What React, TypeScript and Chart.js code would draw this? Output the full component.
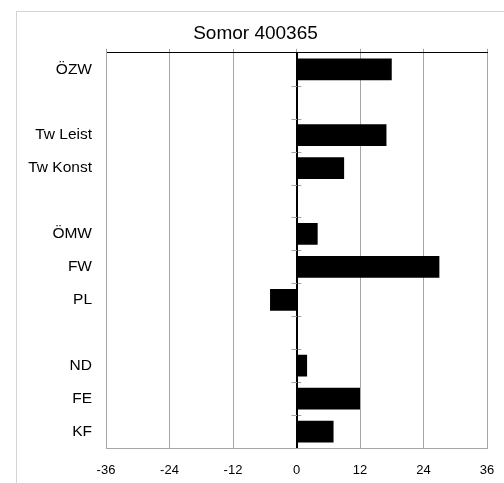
import React, { useEffect, useRef } from "react";
import { Chart, registerables } from "chart.js";

Chart.register(...registerables);

const title = "Somor 400365";
const categories = ["ÖZW", "", "Tw Leist", "Tw Konst", "", "ÖMW", "FW", "PL", "", "ND", "FE", "KF"];
const values: (number | null)[] = [18, null, 17, 9, null, 4, 27, -5, null, 2, 12, 7];
const xMin = -36;
const xMax = 36;
const xStep = 12;

const GRID = "#a6a6a6";

const zeroTicks = {
  id: "zeroTicks",
  afterDatasetsDraw(chart: any) {
    const x = chart.scales.x;
    const y = chart.scales.y;
    const ctx = chart.ctx;
    const x0 = x.getPixelForValue(0);
    ctx.save();
    ctx.strokeStyle = GRID;
    ctx.lineWidth = 1;
    for (let i = 1; i < categories.length; i++) {
      const py = Math.round((y.getPixelForValue(i - 1) + y.getPixelForValue(i)) / 2) + 0.5;
      ctx.beginPath();
      ctx.moveTo(x0 - 5, py);
      ctx.lineTo(x0 + 5, py);
      ctx.stroke();
    }
    ctx.strokeStyle = "#000";
    ctx.beginPath();
    ctx.moveTo(Math.round(x0) + 0.5, y.top);
    ctx.lineTo(Math.round(x0) + 0.5, y.bottom);
    ctx.stroke();
    ctx.restore();
  },
};

export default function App() {
  const ref = useRef<HTMLCanvasElement>(null);
  useEffect(() => {
    if (!ref.current) return;
    const chart = new Chart(ref.current, {
      type: "bar",
      data: {
        labels: categories,
        datasets: [
          {
            data: values,
            backgroundColor: "#000",
            borderWidth: 0,
            barPercentage: 0.66,
            categoryPercentage: 1,
          },
        ],
      },
      plugins: [zeroTicks],
      options: {
        indexAxis: "y",
        animation: false,
        responsive: false,
        maintainAspectRatio: false,
        layout: { padding: { left: 7, right: 17, top: 0, bottom: 0 } },
        plugins: {
          legend: { display: false },
          tooltip: { enabled: false },
          title: {
            display: true,
            text: title,
            color: "#000",
            font: { family: "'Liberation Sans', Arial, sans-serif", size: 19, weight: "normal" },
            padding: { top: 10, bottom: 4 },
          },
        },
        scales: {
          x: {
            type: "linear",
            position: "bottom",
            min: xMin,
            max: xMax,
            ticks: {
              stepSize: xStep,
              color: "#000",
              padding: 15,
              font: { family: "'Liberation Sans', Arial, sans-serif", size: 13 },
            },
            grid: {
              color: (ctx: any) => (ctx.tick && ctx.tick.value === 0 ? "#000" : GRID),
              drawTicks: false,
            },
            border: { color: GRID },
            afterFit: (s: any) => {
              s.height = 35;
              s.paddingLeft = 0;
              s.paddingRight = 0;
            },
          },
          xTop: {
            type: "linear",
            position: "top",
            min: xMin,
            max: xMax,
            ticks: { stepSize: xStep, display: false },
            grid: { drawOnChartArea: false, tickLength: 4, color: GRID },
            border: { color: "#000", width: 1 },
            afterFit: (s: any) => {
              s.height = 4;
              s.paddingLeft = 0;
              s.paddingRight = 0;
            },
          },
          y: {
            type: "category",
            position: "left",
            offset: true,
            ticks: {
              color: "#000",
              padding: 14,
              font: { family: "'Liberation Sans', Arial, sans-serif", size: 15.5 },
            },
            grid: { drawOnChartArea: false, drawTicks: false },
            border: { color: GRID },
            afterFit: (s: any) => {
              s.width = 82;
              s.paddingTop = 0;
              s.paddingBottom = 0;
            },
          },
        },
      },
    } as any);
    return () => chart.destroy();
  }, []);
  return (
    <div
      style={{
        position: "absolute",
        left: 16,
        top: 11,
        width: 487,
        height: 471,
        borderTop: "1px solid #d4d4d4",
        borderLeft: "1px solid #d4d4d4",
        background: "#fff",
      }}
    >
      <canvas ref={ref} width={487} height={471} style={{ display: "block" }} />
    </div>
  );
}
